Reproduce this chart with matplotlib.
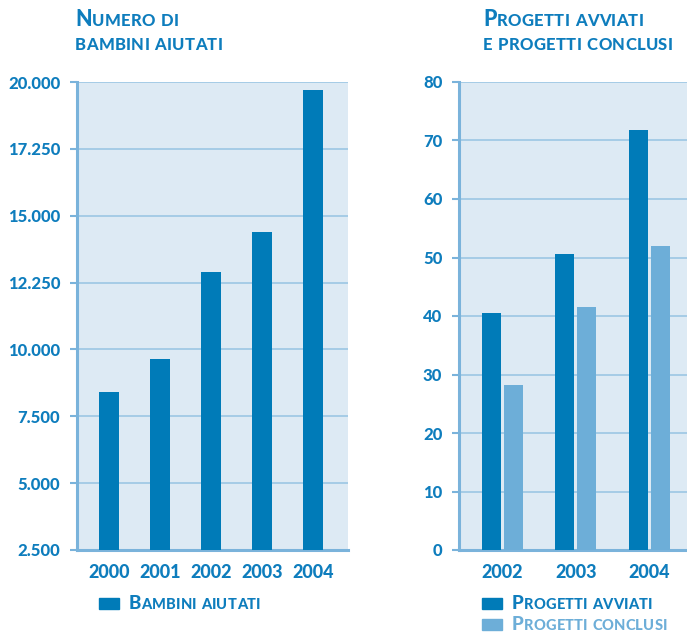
import matplotlib
matplotlib.use("Agg")
import matplotlib.pyplot as plt
import numpy as np
from matplotlib.patches import Rectangle

# ---- data ----
years_left = ["2000", "2001", "2002", "2003", "2004"]
bambini = [8400, 9650, 12900, 14400, 19700]
left_ticks = [2500, 5000, 7500, 10000, 12500, 15000, 17500, 20000]
left_tick_labels = ["2.500", "5.000", "7.500", "10.000", "12.250", "15.000", "17.250", "20.000"]

years_right = ["2002", "2003", "2004"]
avviati = [40.5, 50.6, 71.8]
conclusi = [28.2, 41.6, 52.0]
right_ticks = [0, 10, 20, 30, 40, 50, 60, 70, 80]

# ---- styles ----
DARK = "#007bb8"
LIGHT = "#6daed8"
BG = "#ddeaf4"
GRID = "#9cc6e4"
SPINE = "#7ab3db"
TXT = "#0e7dbd"
FONT = "Lato"
WT = "black"

fig = plt.figure(figsize=(6.87, 6.33), dpi=100)
W, H = 687, 633


def fx(px):
    return px / W


def fy(py):
    return 1 - py / H


axL = fig.add_axes([fx(77), fy(550), fx(348 - 77), (550 - 82) / H])
axR = fig.add_axes([fx(459), fy(550), fx(687 - 459), (550 - 82) / H])

for ax in (axL, axR):
    ax.set_facecolor(BG)
    for s in ("top", "right"):
        ax.spines[s].set_visible(False)
    for s in ("left", "bottom"):
        ax.spines[s].set_color(SPINE)
        ax.spines[s].set_linewidth(2.2)
    ax.yaxis.grid(True, color=GRID, linewidth=1.2)
    ax.set_axisbelow(True)
    ax.tick_params(axis="y", length=5, width=1.5, color=SPINE, pad=7,
                   labelsize=12, labelcolor=TXT)
    ax.tick_params(axis="x", length=0, pad=10, labelsize=13, labelcolor=TXT)

# left chart
xl = np.arange(len(years_left))
axL.bar(xl, [v - 2500 for v in bambini], bottom=2500, width=0.39, color=DARK, zorder=3)
axL.set_xlim(-0.627, 4.686)
axL.set_ylim(2500, 20000)
axL.set_yticks(left_ticks)
axL.set_yticklabels(left_tick_labels, fontweight=WT, fontfamily=FONT)
axL.set_xticks(xl)
axL.set_xticklabels(years_left, fontweight=WT, fontfamily=FONT)

# right chart
xr = np.arange(len(years_right))
axR.bar(xr - 0.15, avviati, width=0.258, color=DARK, zorder=3)
axR.bar(xr + 0.15, conclusi, width=0.258, color=LIGHT, zorder=3)
axR.set_xlim(-0.59, 2.51)
axR.set_ylim(0, 80)
axR.set_yticks(right_ticks)
axR.set_yticklabels([str(t) for t in right_ticks], fontweight=WT, fontfamily=FONT)
axR.set_xticks(xr)
axR.set_xticklabels(years_right, fontweight=WT, fontfamily=FONT)

renderer = fig.canvas.get_renderer()


def smallcaps(xpx, ypx, text, big, small, color, track=0.6):
    """Draw text in small caps: uppercase input letters big, lowercase as small caps."""
    x = xpx
    for ch in text:
        size = big if ch.isupper() else small
        t = fig.text(fx(x), fy(ypx), ch.upper(), fontsize=size, fontweight=WT,
                     fontfamily=FONT, color=color, ha="left", va="baseline")
        if ch == " ":
            x += size * 0.38 + track
        else:
            x += t.get_window_extent(renderer).width + track


# titles
smallcaps(75, 26, "Numero di", 15.5, 12, TXT, track=0.35)
smallcaps(75, 50, "bambini aiutati", 15.5, 12, TXT, track=0.35)
smallcaps(483, 26, "Progetti avviati", 15.5, 12, TXT, track=0.35)
smallcaps(483, 50, "e progetti conclusi", 15.5, 12, TXT, track=0.35)


def legend_item(x0, y0, color, label, tcolor):
    fig.patches.append(Rectangle((fx(x0), fy(y0 + 11)), fx(20), 11 / H,
                                 transform=fig.transFigure, color=color))
    smallcaps(x0 + 30, y0 + 11, label, 13.5, 10.5, tcolor, track=0.2)


legend_item(99, 598, DARK, "Bambini aiutati", TXT)
legend_item(482, 598, DARK, "Progetti avviati", TXT)
legend_item(482, 619, LIGHT, "Progetti conclusi", LIGHT)

fig.savefig("out.png", dpi=100)
